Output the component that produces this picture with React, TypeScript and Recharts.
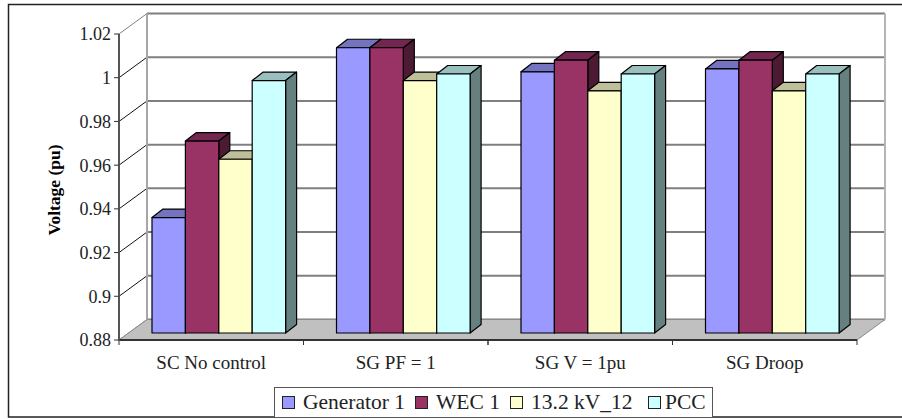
import React from 'react';
import { BarChart, Bar, XAxis, YAxis, CartesianGrid, Legend } from 'recharts';

const categories = ['SC No control', 'SG PF = 1', 'SG V = 1pu', 'SG Droop'];
const generator1 = [0.9328, 1.0105, 0.9995, 1.0008];
const wec1 = [0.9678, 1.0105, 1.0048, 1.0048];
const kv132 = [0.9595, 0.9955, 0.9908, 0.9908];
const pcc = [0.9955, 0.9985, 0.9985, 0.9985];
const yTicks = [0.88, 0.9, 0.92, 0.94, 0.96, 0.98, 1, 1.02];

const seriesList = [
  { key: 'gen', name: 'Generator 1', values: generator1, fill: '#9999ff', top: '#7373bf', side: '#4d4d80' },
  { key: 'wec', name: 'WEC 1', values: wec1, fill: '#993366', top: '#732650', side: '#4d1a33' },
  { key: 'kv', name: '13.2 kV_12', values: kv132, fill: '#ffffcc', top: '#bfbf99', side: '#808066' },
  { key: 'pcc', name: 'PCC', values: pcc, fill: '#ccffff', top: '#99bfbf', side: '#668080' },
];

const data = categories.map((c, i) => ({
  name: c,
  gen: generator1[i],
  wec: wec1[i],
  kv: kv132[i],
  pcc: pcc[i],
}));

const FONT = '"Liberation Serif", "Times New Roman", serif';
// excel style 3d box: back wall sits up and right of the axes
const WALL_DX = 28;
const WALL_DY = -20.5;
const BAR_DX = 8;
const BAR_DY = -7;
const DEPTH_DX = 11;
const DEPTH_DY = -8.5;
const BAND = 184.5;

function Bar3D(props: any, top: string, side: string) {
  const { width, height, fill } = props;
  const x = props.x + BAR_DX;
  const y = props.y + BAR_DY;
  const line = { stroke: '#000', strokeWidth: 1.2, strokeLinejoin: 'round' as const };
  return (
    <g>
      <polygon points={`${x},${y} ${x + DEPTH_DX},${y + DEPTH_DY} ${x + width + DEPTH_DX},${y + DEPTH_DY} ${x + width},${y}`} fill={top} {...line} />
      <polygon points={`${x + width},${y} ${x + width + DEPTH_DX},${y + DEPTH_DY} ${x + width + DEPTH_DX},${y + height + DEPTH_DY} ${x + width},${y + height}`} fill={side} {...line} />
      <rect x={x} y={y} width={width} height={height} fill={fill} {...line} />
    </g>
  );
}

function GridLine(props: any) {
  const { x1, x2, y1, y2, index } = props;
  const isTop = y1 < 36;
  const isBottom = y1 > 338;
  return (
    <g key={'g' + index}>
      <line x1={x1 + WALL_DX} x2={x2 + WALL_DX} y1={y1 + WALL_DY} y2={y2 + WALL_DY} stroke="#7f7f7f" strokeWidth={2} />
      <line x1={x1} x2={x1 + WALL_DX} y1={y1} y2={y1 + WALL_DY} stroke={isTop || isBottom ? '#7f7f7f' : '#111'} strokeWidth={1} />
    </g>
  );
}

function CategoryTick(props: any) {
  const { x, y, payload } = props;
  return (
    <g>
      <line x1={x - BAND / 2} x2={x - BAND / 2} y1={y} y2={y + 5} stroke="#333" />
      <line x1={x + BAND / 2} x2={x + BAND / 2} y1={y} y2={y + 5} stroke="#333" />
      <text x={x} y={y + 29} textAnchor="middle" fontFamily={FONT} fontSize={19} fill="#222">{payload.value}</text>
    </g>
  );
}

function AxisTitle() {
  return (
    <text transform="translate(60,190) rotate(-90)" textAnchor="middle" fontFamily={FONT} fontSize={17.5} fontWeight="bold" fill="#000">
      Voltage (pu)
    </text>
  );
}

function ChartLegend() {
  const widths = [133, 95, 138, 64];
  return (
    <div style={{ display: 'flex', alignItems: 'center', width: 439, height: 30, boxSizing: 'border-box', border: '1px solid #555', borderBottom: 'none', paddingLeft: 7, fontFamily: FONT, fontSize: 21.5, color: '#222', background: '#fff' }}>
      {seriesList.map((s, i) => (
        <div key={s.key} style={{ display: 'flex', alignItems: 'center', width: widths[i], flex: 'none', whiteSpace: 'nowrap' }}>
          <span style={{ width: 11, height: 11, flex: 'none', background: s.fill, border: '1px solid #222', marginRight: i === 3 ? 4 : 8 }} />
          {s.name}
        </div>
      ))}
    </div>
  );
}

export default function App() {
  return (
    <div style={{ position: 'absolute', left: 0, top: 0, width: 902, height: 419, background: '#fff', overflow: 'hidden' }}>
      <BarChart
        width={902}
        height={419}
        data={data}
        margin={{ top: 34, right: 45, bottom: 0, left: 69 }}
        barSize={33.4}
        barGap={0}
      >
        <rect x={8.5} y={4.5} width={920} height={412.5} fill="none" stroke="#222" strokeWidth={1.5} />
        <polygon points="119,340 857,340 885,319.5 147,319.5" fill="#c0c0c0" stroke="#8a8a8a" />
        <line x1={147} x2={147} y1={13.5} y2={319.5} stroke="#a6a6a6" strokeWidth={2} />
        <line x1={885} x2={885} y1={13.5} y2={319.5} stroke="#b5b5b5" strokeWidth={2} />
        <CartesianGrid vertical={false} horizontal={GridLine as any} syncWithTicks />
        <XAxis dataKey="name" tick={CategoryTick} tickLine={false} tickSize={0} tickMargin={0} axisLine={{ stroke: '#333', strokeWidth: 2 }} height={49} />
        <YAxis
          width={50}
          domain={[0.88, 1.02]}
          ticks={yTicks}
          interval={0}
          tickFormatter={(v: number) => String(v)}
          tick={{ fontFamily: FONT, fontSize: 18, fill: '#222' }}
          tickSize={5}
          tickMargin={3}
          axisLine={{ stroke: '#555', strokeWidth: 2 }}
          tickLine={{ stroke: '#333' }}
          label={{ content: AxisTitle }}
        />
        {seriesList.map(s => (
          <Bar
            key={s.key}
            dataKey={s.key}
            name={s.name}
            fill={s.fill}
            isAnimationActive={false}
            shape={(p: any) => Bar3D(p, s.top, s.side)}
          />
        ))}
        <Legend content={ChartLegend} wrapperStyle={{ position: 'absolute', left: 274, top: 387, width: 439, height: 30, bottom: 'auto' }} />
      </BarChart>
    </div>
  );
}
